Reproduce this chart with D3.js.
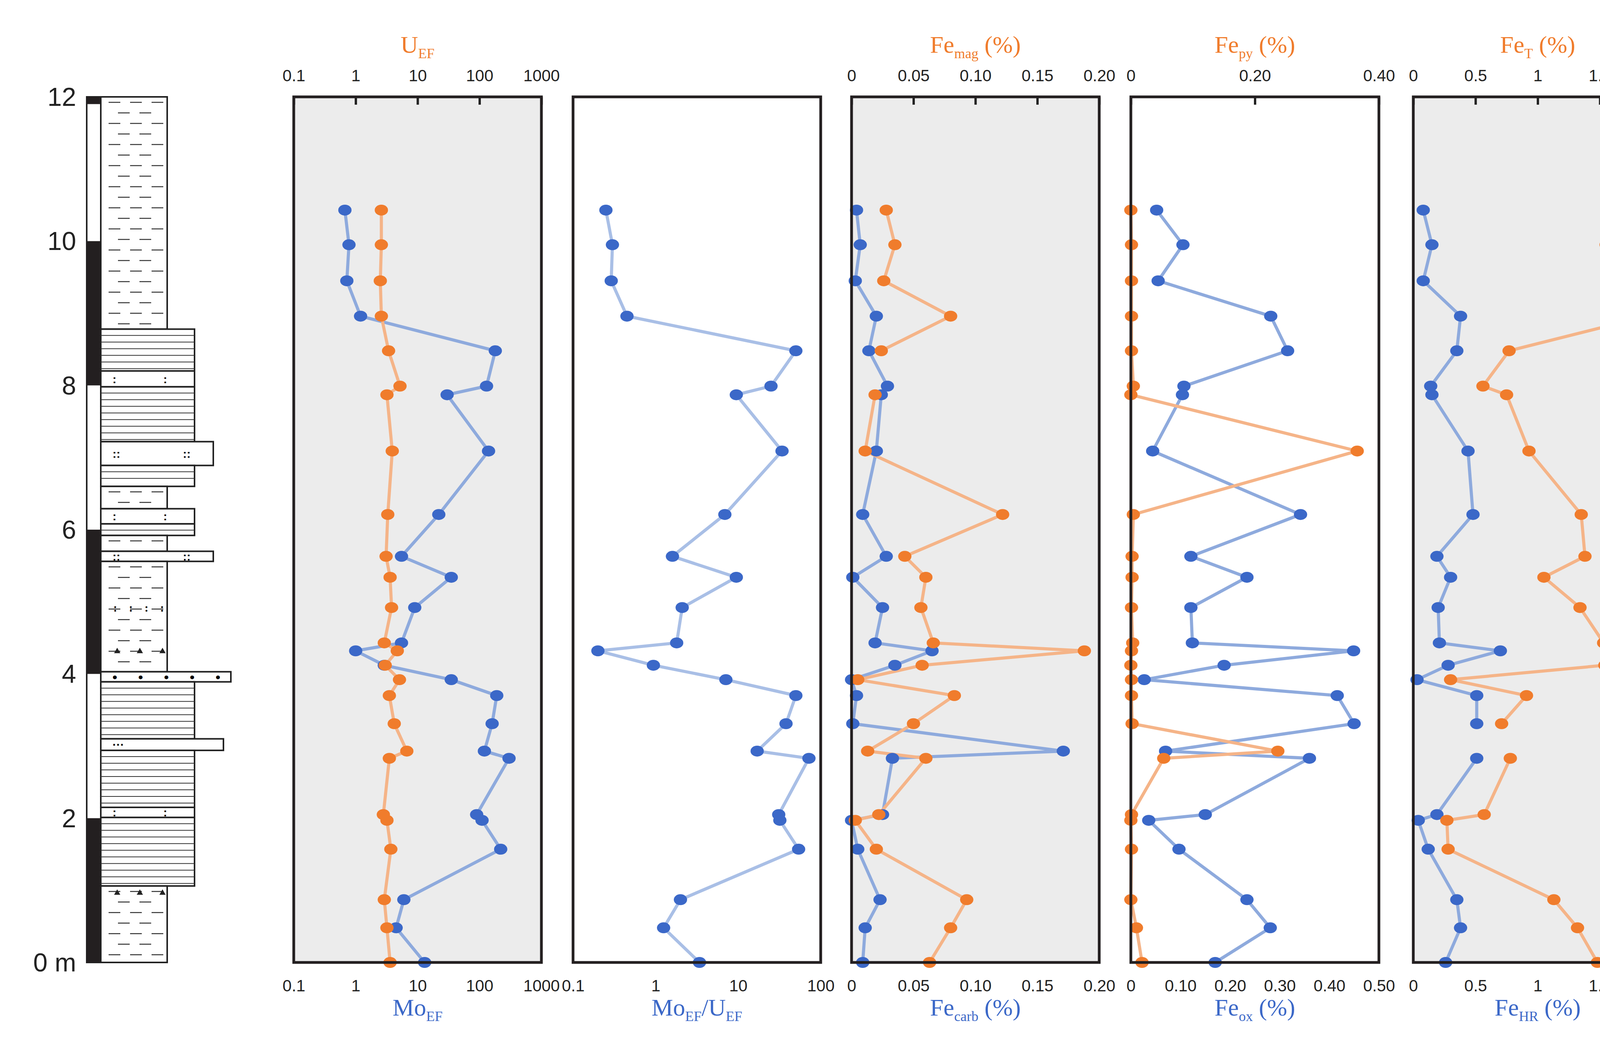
<!DOCTYPE html>
<html><head><meta charset="utf-8">
<script src="https://cdn.jsdelivr.net/npm/d3@7"></script>
<style>body{margin:0;background:#fff}svg{display:block}</style>
</head><body>
<script>
// ---------- DATA ----------
const depth = [10.43,9.95,9.45,8.96,8.48,7.99,7.87,7.09,6.21,5.63,5.34,4.92,4.43,4.32,4.12,3.92,3.70,3.31,2.93,2.83,2.05,1.97,1.57,0.87,0.48,0.0];
const MoEF = [0.67,0.78,0.72,1.2,180,130,30,140,22,5.5,35,9,5.5,1.0,2.9,35,190,160,120,300,90,110,220,6,4.5,13];
const UEF = [2.6,2.6,2.5,2.6,3.4,5.2,3.2,3.9,3.3,3.1,3.6,3.8,2.9,4.7,3.0,5.1,3.5,4.2,6.7,3.5,2.8,3.2,3.7,2.9,3.2,3.6];
const MoU = [0.25,0.30,0.29,0.45,50,25,9.5,34,6.9,1.6,9.5,2.1,1.8,0.2,0.94,7.1,50,38,17,72,31,32,54,2.0,1.25,3.4];
const FeCarb = [0.004,0.007,0.003,0.020,0.014,0.029,0.024,0.020,0.009,0.028,0.001,0.025,0.019,0.065,0.035,0.0,0.004,0.001,0.171,0.033,0.025,0.0,0.005,0.023,0.011,0.009];
const FeMag = [0.028,0.035,0.026,0.080,0.024,null,0.019,0.011,0.122,0.043,0.060,0.056,0.066,0.188,0.057,0.005,0.083,0.050,0.013,0.060,0.022,0.003,0.020,0.093,0.080,0.063];
const FeOx = [0.052,0.105,0.055,0.282,0.316,0.107,0.104,0.044,0.342,0.121,0.234,0.121,0.124,0.449,0.188,0.027,0.416,0.450,0.070,0.360,0.150,0.036,0.097,0.234,0.281,0.170];
const FePy = [0,0.001,0.001,0.001,0.001,0.004,0,0.365,0.004,0.002,0.002,0.001,0.003,0.001,0,0.001,0.001,0.002,0.237,0.053,0.001,0,0.001,0,0.009,0.018];
const FeHR = [0.08,0.15,0.08,0.38,0.35,0.14,0.15,0.44,0.48,0.19,0.30,0.20,0.21,0.70,0.28,0.03,0.51,0.51,null,0.51,0.19,0.04,0.12,0.35,0.38,0.26];
const FeT = [1.61,1.55,1.62,1.88,0.77,0.56,0.75,0.93,1.35,1.38,1.05,1.34,1.53,1.86,1.54,0.30,0.91,0.71,null,0.78,0.57,0.27,0.28,1.13,1.32,1.48];
const HRT = [0.055,0.097,0.057,0.205,0.464,0.254,0.199,0.475,0.357,0.146,0.284,0.156,0.140,0.376,0.183,0.129,0.558,0.706,0.0,0.643,0.348,0.162,0.450,0.311,0.291,0.177];
const PyHR = [0.008,0.008,0.012,0.003,0.006,0.039,0.009,0.818,0.012,0.025,0.014,0.014,0.023,0.002,0.005,0.045,0.006,0.008,0.478,0.103,0.011,0.006,0.018,0.006,0.028,0.072];
const depthTicks = [0,2,4,6,8,10,12];
const polarity = [[12,11.9],[10,8],[6,4],[2,0]];
const lithology = [
 [12,8.78,"mud"],[8.78,8.2,"lam"],[8.2,7.98,"silt"],[7.98,7.22,"lam"],[7.22,6.89,"sand"],
 [6.89,6.6,"lam"],[6.6,6.29,"mud"],[6.29,6.08,"silt"],[6.08,5.92,"lam"],[5.92,5.70,"mud"],
 [5.70,5.56,"sand"],[5.56,4.03,"mud"],[4.03,3.89,"cong"],[3.89,3.10,"lam"],[3.10,2.94,"ss"],
 [2.94,2.15,"lam"],[2.15,2.01,"silt"],[2.01,1.06,"lam"],[1.06,0,"mud"]];
const siltMarks = [4.92];
const triMarks = [4.32,0.97];
const thresholds = [0.22,0.38];

// ---------- LAYOUT ----------
const W=5069,H=2660, yTop=248, yBot=2464;
const svg=d3.select("body").append("svg").attr("width",W).attr("height",H);
const y=d3.scaleLinear().domain([0,12]).range([yBot,yTop]);
const BLUE="#3b68c8", BLUEL="#8eaadd", OR="#f07c2c", ORL="#f5b488";
const tickFont="Liberation Sans", titleFont="Liberation Serif";

// ---------- COLUMN ----------
const col=svg.append("g");
const bx0=222,bx1=258,lx=258;
const widths={mud:428,lam:498,silt:498,sand:546,cong:591,ss:572};
col.append("rect").attr("x",bx0).attr("y",y(12)).attr("width",bx1-bx0).attr("height",y(0)-y(12)).attr("fill","#fff").attr("stroke","#222").attr("stroke-width",4);
polarity.forEach(p=>col.append("rect").attr("x",bx0).attr("y",y(p[0])).attr("width",bx1-bx0).attr("height",y(p[1])-y(p[0])).attr("fill","#231f20"));
lithology.forEach(([t,b,ty])=>{
  const x1=widths[ty], y0=y(t), y1=y(b);
  const g=col.append("g");
  g.append("rect").attr("x",lx).attr("y",y0).attr("width",x1-lx).attr("height",y1-y0).attr("fill","#fff").attr("stroke","#222").attr("stroke-width",4);
  if(ty==="lam"){
    for(let yy=y0+16;yy<y1-4;yy+=17) g.append("line").attr("x1",lx).attr("x2",x1).attr("y1",yy).attr("y2",yy).attr("stroke","#333").attr("stroke-width",2);
  } else if(ty==="mud"){
    let r=0;
    for(let yy=y0+14;yy<y1-6;yy+=27,r++){
      const off=(r%2)?24:0;
      for(let xx=lx+20+off;xx<x1-30;xx+=55) g.append("line").attr("x1",xx).attr("x2",xx+30).attr("y1",yy).attr("y2",yy).attr("stroke","#333").attr("stroke-width",2.5);
    }
  } else {
    const ym=(y0+y1)/2;
    const step=ty==="silt"?130:ty==="cong"?66:ty==="sand"?180:260;
    for(let xx=lx+30;xx<x1-25;xx+=step) g.append("text").attr("x",xx).attr("y",ym).attr("dy","0.35em").attr("font-size",ty==="cong"?34:30).attr("font-family",tickFont).attr("font-weight","bold").text(ty==="silt"?":":ty==="sand"?"::":ty==="cong"?"•":"···");
  }
});
siltMarks.forEach(d=>{for(let xx=290;xx<420;xx+=40) col.append("text").attr("x",xx).attr("y",y(d)).attr("dy","0.35em").attr("font-size",30).attr("font-weight","bold").text(":");});
triMarks.forEach(d=>{for(let xx=300;xx<420;xx+=58) col.append("path").attr("d",`M${xx},${y(d)-8}l8,14h-16z`).attr("fill","#222");});
depthTicks.forEach(d=>col.append("text").attr("x",195).attr("y",y(d)).attr("dy","0.35em").attr("text-anchor","end").attr("font-family",tickFont).attr("font-size",66).attr("fill","#222").text(d===0?"0 m":d));

// ---------- PANELS ----------
const panels=[
 {x0:752,x1:1386,bg:"#ececec",log:true,
  bot:{dom:[0.1,1000],ticks:[0.1,1,10,100,1000],fmt:d=>String(d),data:MoEF,line:BLUEL,title:["Mo","EF",""]},
  top:{dom:[0.1,1000],ticks:[0.1,1,10,100,1000],fmt:d=>String(d),data:UEF,title:["U","EF",""]}},
 {x0:1467,x1:2101,bg:"#fff",log:true,
  bot:{dom:[0.1,100],ticks:[0.1,1,10,100],fmt:d=>String(d),data:MoU,line:"#a9bfe6",title:["Mo","EF","/U"],sub2:"EF"},
  top:null},
 {x0:2180,x1:2814,bg:"#ececec",
  bot:{dom:[0,0.2],ticks:[0,0.05,0.1,0.15,0.2],fmt:d=>d===0?"0":d.toFixed(2),data:FeCarb,line:BLUEL,title:["Fe","carb"," (%)"]},
  top:{dom:[0,0.2],ticks:[0,0.05,0.1,0.15,0.2],fmt:d=>d===0?"0":d.toFixed(2),data:FeMag,title:["Fe","mag"," (%)"]}},
 {x0:2895,x1:3530,bg:"#fff",
  bot:{dom:[0,0.5],ticks:[0,0.1,0.2,0.3,0.4,0.5],fmt:d=>d===0?"0":d.toFixed(2),data:FeOx,line:BLUEL,title:["Fe","ox"," (%)"]},
  top:{dom:[0,0.4],ticks:[0,0.2,0.4],fmt:d=>d===0?"0":d.toFixed(2),data:FePy,title:["Fe","py"," (%)"]}},
 {x0:3618,x1:4255,bg:"#ececec",
  bot:{dom:[0,2],ticks:[0,0.5,1,1.5,2],fmt:d=>String(d),data:FeHR,line:BLUEL,title:["Fe","HR"," (%)"]},
  top:{dom:[0,2],ticks:[0,0.5,1,1.5,2],fmt:d=>String(d),data:FeT,title:["Fe","T"," (%)"]}},
 {x0:4340,x1:4977,bg:"#fff",
  bot:{dom:[0,1],ticks:[0,0.5,1],fmt:d=>d===0?"0":d.toFixed(1),data:HRT,line:BLUEL,title:["Fe","HR","/Fe"],sub2:"T"},
  top:{dom:[0,1],ticks:[0,0.5,1],fmt:d=>d===0?"0":d.toFixed(1),data:PyHR,title:["Fe","py","/Fe"],sub2:"HR"}}
];
function title2(g,x,yy,t,sub2,color){
  const e=g.append("text").attr("x",x).attr("y",yy).attr("text-anchor","middle").attr("font-family",titleFont).attr("font-size",62).attr("fill",color);
  e.append("tspan").text(t[0]);
  e.append("tspan").attr("font-size",36).attr("dy",14).text(t[1]);
  if(t[2]) e.append("tspan").attr("dy",-14).text(t[2]);
  if(sub2) e.append("tspan").attr("font-size",36).attr("dy",14).text(sub2);
}
panels.forEach((p,i)=>{
  const g=svg.append("g");
  const mk=d=>(p.log?d3.scaleLog():d3.scaleLinear()).domain(d).range([p.x0,p.x1]);
  const xb=mk(p.bot.dom);
  g.append("rect").attr("x",p.x0).attr("y",yTop).attr("width",p.x1-p.x0).attr("height",yBot-yTop).attr("fill",p.bg);
  if(i===5){
    thresholds.forEach(t=>g.append("line").attr("x1",xb(t)).attr("x2",xb(t)).attr("y1",yTop+60).attr("y2",yBot-10).attr("stroke",BLUE).attr("stroke-width",7).attr("stroke-dasharray","7,24"));
    g.append("text").attr("transform",`translate(${xb(0.115)},${yTop+190}) rotate(-90)`).attr("font-family","Liberation Sans Narrow, Liberation Sans").attr("font-size",72).attr("fill",BLUE).text("oxic");
    g.append("text").attr("transform",`translate(${xb(0.665)},${yTop+400}) rotate(-90)`).attr("font-family","Liberation Sans Narrow, Liberation Sans").attr("font-size",72).attr("fill",BLUE).text("anoxic");
  }
  const ab=d3.axisBottom(xb).tickValues(p.bot.ticks).tickFormat(p.bot.fmt).tickSize(0).tickPadding(44);
  g.append("g").attr("transform",`translate(0,${yBot})`).call(ab).call(s=>{s.select(".domain").remove();s.selectAll("text").attr("font-family",tickFont).attr("font-size",42).attr("fill","#222");});
  title2(g,(p.x0+p.x1)/2,2600,p.bot.title,p.bot.sub2,BLUE);
  const lineGen=sc=>d3.line().defined(d=>d[1]!=null).x(d=>sc(p.log?Math.max(d[1],0.1):d[1])).y(d=>y(d[0]));
  const bd=depth.map((d,k)=>[d,p.bot.data[k]]);
  let xt=null, td=null;
  if(p.top){
    xt=mk(p.top.dom);
    const at=d3.axisTop(xt).tickValues(p.top.ticks).tickFormat(p.top.fmt).tickSize(-20).tickPadding(40);
    g.append("g").attr("transform",`translate(0,${yTop})`).call(at).call(s=>{s.select(".domain").remove();s.selectAll("line").attr("stroke","#222").attr("stroke-width",6);s.selectAll("text").attr("font-family",tickFont).attr("font-size",42).attr("fill","#222");});
    title2(g,(p.x0+p.x1)/2,135,p.top.title,p.top.sub2,OR);
    td=depth.map((d,k)=>[d,p.top.data[k]]);
  }
  g.append("path").datum(bd).attr("d",lineGen(xb)).attr("fill","none").attr("stroke",p.bot.line).attr("stroke-width",8);
  if(td) g.append("path").datum(td).attr("d",lineGen(xt)).attr("fill","none").attr("stroke",ORL).attr("stroke-width",8);
  g.selectAll(".bd").data(bd.filter(d=>d[1]!=null)).join("ellipse").attr("cx",d=>xb(d[1])).attr("cy",d=>y(d[0])).attr("rx",17).attr("ry",14).attr("fill",BLUE);
  if(td) g.selectAll(".td").data(td.filter(d=>d[1]!=null)).join("ellipse").attr("cx",d=>xt(d[1])).attr("cy",d=>y(d[0])).attr("rx",17).attr("ry",14).attr("fill",OR);
  g.append("rect").attr("x",p.x0).attr("y",yTop).attr("width",p.x1-p.x0).attr("height",yBot-yTop).attr("fill","none").attr("stroke","#231f20").attr("stroke-width",7);
});
</script>
</body></html>
